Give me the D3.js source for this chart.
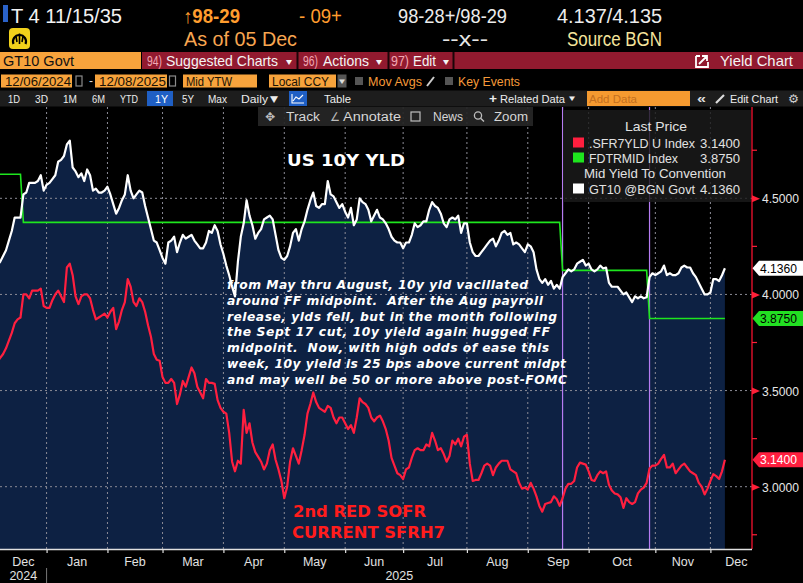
<!DOCTYPE html>
<html><head><meta charset="utf-8">
<script src="https://cdn.jsdelivr.net/npm/d3@7"></script>
<style>
html,body{margin:0;padding:0;background:#000;overflow:hidden;}
svg{display:block;font-family:"Liberation Sans",Arial,sans-serif;}
</style></head><body>
<svg id="c" width="803" height="583"></svg>
<script>
// ---------------- DATA ----------------
const dates = [
"2024-12-06","2024-12-09","2024-12-10","2024-12-11","2024-12-12","2024-12-13","2024-12-16","2024-12-17","2024-12-18","2024-12-19","2024-12-20","2024-12-23","2024-12-24","2024-12-26","2024-12-27","2024-12-30","2024-12-31",
"2025-01-02","2025-01-03","2025-01-06","2025-01-07","2025-01-08","2025-01-09","2025-01-10","2025-01-13","2025-01-14","2025-01-15","2025-01-16","2025-01-17","2025-01-21","2025-01-22","2025-01-23","2025-01-24","2025-01-27","2025-01-28","2025-01-29","2025-01-30","2025-01-31",
"2025-02-03","2025-02-04","2025-02-05","2025-02-06","2025-02-07","2025-02-10","2025-02-11","2025-02-12","2025-02-13","2025-02-14","2025-02-18","2025-02-19","2025-02-20","2025-02-21","2025-02-24","2025-02-25","2025-02-26","2025-02-27","2025-02-28",
"2025-03-03","2025-03-04","2025-03-05","2025-03-06","2025-03-07","2025-03-10","2025-03-11","2025-03-12","2025-03-13","2025-03-14","2025-03-17","2025-03-18","2025-03-19","2025-03-20","2025-03-21","2025-03-24","2025-03-25","2025-03-26","2025-03-27","2025-03-28","2025-03-31",
"2025-04-01","2025-04-02","2025-04-03","2025-04-04","2025-04-07","2025-04-08","2025-04-09","2025-04-10","2025-04-11","2025-04-14","2025-04-15","2025-04-16","2025-04-17","2025-04-21","2025-04-22","2025-04-23","2025-04-24","2025-04-25","2025-04-28","2025-04-29","2025-04-30",
"2025-05-01","2025-05-02","2025-05-05","2025-05-06","2025-05-07","2025-05-08","2025-05-09","2025-05-12","2025-05-13","2025-05-14","2025-05-15","2025-05-16","2025-05-19","2025-05-20","2025-05-21","2025-05-22","2025-05-23","2025-05-27","2025-05-28","2025-05-29","2025-05-30",
"2025-06-02","2025-06-03","2025-06-04","2025-06-05","2025-06-06","2025-06-09","2025-06-10","2025-06-11","2025-06-12","2025-06-13","2025-06-16","2025-06-17","2025-06-18","2025-06-20","2025-06-23","2025-06-24","2025-06-25","2025-06-26","2025-06-27","2025-06-30",
"2025-07-01","2025-07-02","2025-07-03","2025-07-07","2025-07-08","2025-07-09","2025-07-10","2025-07-11","2025-07-14","2025-07-15","2025-07-16","2025-07-17","2025-07-18","2025-07-21","2025-07-22","2025-07-23","2025-07-24","2025-07-25","2025-07-28","2025-07-29","2025-07-30","2025-07-31",
"2025-08-01","2025-08-04","2025-08-05","2025-08-06","2025-08-07","2025-08-08","2025-08-11","2025-08-12","2025-08-13","2025-08-14","2025-08-15","2025-08-18","2025-08-19","2025-08-20","2025-08-21","2025-08-22","2025-08-25","2025-08-26","2025-08-27","2025-08-28","2025-08-29",
"2025-09-02","2025-09-03","2025-09-04","2025-09-05","2025-09-08","2025-09-09","2025-09-10","2025-09-11","2025-09-12","2025-09-15","2025-09-16","2025-09-17","2025-09-18","2025-09-19","2025-09-22","2025-09-23","2025-09-24","2025-09-25","2025-09-26","2025-09-29","2025-09-30",
"2025-10-01","2025-10-02","2025-10-03","2025-10-06","2025-10-07","2025-10-08","2025-10-09","2025-10-10","2025-10-13","2025-10-14","2025-10-15","2025-10-16","2025-10-17","2025-10-20","2025-10-21","2025-10-22","2025-10-23","2025-10-24","2025-10-27","2025-10-28","2025-10-29","2025-10-30","2025-10-31",
"2025-11-03","2025-11-04","2025-11-05","2025-11-06","2025-11-07","2025-11-10","2025-11-11","2025-11-12","2025-11-13","2025-11-14","2025-11-17","2025-11-18","2025-11-19","2025-11-20","2025-11-21","2025-11-24","2025-11-25","2025-11-26","2025-11-28",
"2025-12-01","2025-12-02","2025-12-03","2025-12-04","2025-12-05","2025-12-08"
];

// GT10 @BGN Govt, mid yield (white, filled)
const gt10 = [
4.15,4.17,4.20,4.23,4.28,4.33,4.40,4.40,4.40,4.52,4.53,4.58,4.58,4.58,4.59,4.62,4.54,
4.57,4.58,4.60,4.62,4.69,4.70,4.72,4.78,4.80,4.66,4.64,4.61,4.63,4.59,4.65,4.62,4.54,4.55,4.53,4.53,4.54,
4.56,4.52,4.47,4.42,4.45,4.49,4.52,4.62,4.54,4.50,4.52,4.54,4.53,4.46,4.40,4.34,4.28,4.27,4.23,
4.19,4.16,4.27,4.28,4.30,4.22,4.27,4.31,4.29,4.30,4.31,4.28,4.26,4.24,4.24,4.27,4.33,4.32,4.36,4.33,4.26,
4.21,4.15,4.10,4.04,3.99,4.17,4.30,4.37,4.49,4.41,4.36,4.29,4.32,4.34,4.39,4.40,4.41,4.39,4.31,4.23,4.19,
4.18,4.20,4.25,4.32,4.34,4.28,4.34,4.38,4.44,4.49,4.53,4.46,4.45,4.47,4.47,4.59,4.52,4.51,4.48,4.45,4.47,
4.43,4.40,4.45,4.36,4.39,4.50,4.48,4.47,4.44,4.38,4.41,4.44,4.40,4.39,4.37,4.34,4.30,4.28,4.27,4.27,
4.24,4.27,4.27,4.31,4.37,4.35,4.36,4.38,4.38,4.44,4.48,4.46,4.45,4.42,4.37,4.35,4.39,4.40,4.39,4.41,4.32,4.37,
4.37,4.27,4.22,4.20,4.20,4.22,4.24,4.26,4.28,4.29,4.25,4.28,4.32,4.33,4.31,4.32,4.26,4.27,4.26,4.24,4.22,
4.26,4.25,4.22,4.13,4.08,4.06,4.08,4.05,4.07,4.03,4.05,4.03,4.09,4.11,4.13,4.12,4.13,4.16,4.17,4.18,4.15,
4.16,4.13,4.12,4.13,4.15,4.135,4.14,4.06,4.04,4.04,4.04,4.02,4.00,4.01,3.985,3.96,3.99,3.98,3.99,3.98,3.985,4.09,4.11,
4.10,4.11,4.12,4.15,4.10,4.11,4.10,4.10,4.11,4.14,4.15,4.14,4.14,4.11,4.09,4.06,4.03,4.00,4.00,
4.01,4.08,4.08,4.07,4.10,4.136
];

// .SFR7YLD U Index (red)
const sofr = [
3.65,3.67,3.69,3.72,3.76,3.80,3.85,3.87,3.88,4.00,4.00,3.98,4.02,4.02,4.02,4.03,3.94,
3.93,3.93,3.97,4.00,4.02,3.99,3.96,4.14,4.16,4.10,3.99,3.95,3.99,4.00,4.00,3.98,3.92,3.87,3.88,3.89,3.90,
3.88,3.91,3.93,3.82,3.86,3.92,3.96,4.08,4.04,3.96,3.94,3.98,3.96,3.91,3.84,3.78,3.69,3.66,3.655,
3.57,3.54,3.54,3.56,3.54,3.43,3.48,3.55,3.52,3.57,3.62,3.59,3.52,3.49,3.46,3.56,3.54,3.54,3.535,3.45,3.41,
3.39,3.38,3.28,3.13,3.08,3.135,3.12,3.40,3.28,3.33,3.23,3.18,3.155,3.13,3.09,3.12,3.19,3.22,3.14,3.09,3.03,
2.94,3.00,3.13,3.20,3.16,3.12,3.19,3.27,3.38,3.43,3.49,3.44,3.41,3.40,3.39,3.42,3.41,3.36,3.33,3.36,3.36,
3.33,3.30,3.32,3.28,3.36,3.46,3.44,3.43,3.41,3.36,3.34,3.36,3.37,3.34,3.30,3.24,3.15,3.11,3.07,3.06,
3.04,3.09,3.10,3.15,3.19,3.20,3.19,3.19,3.22,3.21,3.28,3.24,3.19,3.20,3.17,3.13,3.16,3.24,3.22,3.25,3.21,3.26,
3.27,3.12,3.03,3.035,3.035,3.07,3.11,3.12,3.11,3.06,3.10,3.12,3.135,3.135,3.135,3.09,3.08,3.07,3.02,2.99,2.995,
2.985,3.02,2.99,2.95,2.90,2.87,2.91,2.915,2.92,2.95,2.935,2.90,2.94,2.99,3.015,3.015,3.03,3.10,3.125,3.12,3.115,
3.08,3.035,3.03,3.06,3.08,3.07,3.08,3.01,2.98,2.965,2.96,2.945,2.89,2.94,2.92,2.91,2.92,2.965,2.985,2.995,3.02,3.095,3.11,
3.11,3.12,3.145,3.165,3.10,3.10,3.12,3.07,3.09,3.11,3.12,3.10,3.08,3.07,3.06,3.02,3.00,2.96,2.99,
3.03,3.065,3.055,3.04,3.08,3.14
];

// FDTRMID Index (green), fed funds target midpoint
const ffDates = ["2024-12-06","2024-12-18","2024-12-19","2025-09-17","2025-09-18","2025-10-29","2025-10-30","2025-12-08"];
const ffMid   = [4.625,4.625,4.375,4.375,4.125,4.125,3.875,3.875];

// key events (FOMC) lines
const eventDates = ["2025-09-18","2025-10-30"];

const monthLabels = ["Dec","Jan","Feb","Mar","Apr","May","Jun","Jul","Aug","Sep","Oct","Nov","Dec"];
const yearLabels = ["2024","2025"];
const yTicks = [3.0,3.5,4.0,4.5];
const yMinorTicks = [2.75,3.25,3.75,4.25,4.75];

const legendNames = [".SFR7YLD U Index","FDTRMID Index","GT10 @BGN Govt"];
const lastValues = [3.14,3.875,4.136];

const noteLines = [
"from May thru August, 10y yld vacillated",
"around FF midpoint.  After the Aug payroll",
"release, ylds fell, but in the month following",
"the Sept 17 cut, 10y yield again hugged FF",
"midpoint.  Now, with high odds of ease this",
"week, 10y yield is 25 bps above current midpt",
"and may well be 50 or more above post-FOMC"
];

// ---------------- DRAW ----------------
const svg = d3.select("#c");
const W = 803, H = 583;
const plotT = 107, plotB = 549, plotR = 752;
const RED = "#ff1f3f", GREEN = "#1ee61e", NAVY = "#0d2143", ORANGE = "#f7a33c";
const DJ = '"DejaVu Sans", Verdana, sans-serif';

svg.append("rect").attr("width",W).attr("height",H).attr("fill","#000");

function T(g, s, x0, x1, yb, size, color, o={}) {
  const t = g.append("text").attr("x",x0).attr("y",yb).attr("font-size",size).attr("fill",color).text(s);
  if (x1 != null) t.attr("textLength",x1-x0).attr("lengthAdjust",o.adjust||"spacingAndGlyphs");
  if (o.weight) t.style("font-weight",o.weight);
  if (o.family) t.style("font-family",o.family);
  if (o.style) t.style("font-style",o.style);
  if (o.anchor) t.attr("text-anchor",o.anchor);
  return t;
}

// ---- header ----
const hd = svg.append("g");
hd.append("rect").attr("x",3).attr("y",5).attr("width",5).attr("height",17).attr("fill","#2a62c9");
T(hd,"T 4 11/15/35",11,122,23,20,"#f2f2f2");
T(hd,"↑98-29",183,240,23,20,"#ff9d2e",{weight:"bold"});
T(hd,"- 09+",299,342,23,20,"#ff9d2e");
T(hd,"98-28+/98-29",398,507,23,20,"#ececec");
T(hd,"4.137/4.135",557,662,23,20,"#ececec");

// yellow icon
hd.append("rect").attr("x",9).attr("y",28).attr("width",21).attr("height",21).attr("rx",4).attr("fill","#f2d21b");
hd.append("path").attr("d","M13.5,44 A6.5,6.5 0 1 1 25.5,44").attr("fill","none").attr("stroke","#000").attr("stroke-width",2.2);
hd.append("path").attr("d","M19.5,33.5 L19.5,44 M16,36.5 L17,42 M23,36.5 L22,42").attr("stroke","#000").attr("stroke-width",1.6);

T(hd,"As of 05 Dec",184,297,46,20,"#f8a650");
T(hd,"--x--",442,488,46,20,"#e6e6e6");
T(hd,"Source BGN",567,662,46,20,"#f5e49c");

// row 3
hd.append("rect").attr("x",0).attr("y",52).attr("width",141).attr("height",17).attr("fill",ORANGE);
T(hd,"GT10 Govt",3,74,66,15,"#111");
hd.append("rect").attr("x",142).attr("y",52).attr("width",W-142).attr("height",17).attr("fill","#921a2f");
[297.5,388.5,453.5].forEach(xx=>hd.append("rect").attr("x",xx-1).attr("y",52).attr("width",2).attr("height",17).attr("fill","#1a0508"));
T(hd,"94)",147,162,66,14,"#f1a7b3");
T(hd,"Suggested Charts",166,278,66,15,"#f4f4f4");
T(hd,"▾",286,292,65,10,"#f4f4f4",{family:DJ});
T(hd,"96)",303,318,66,14,"#f1a7b3");
T(hd,"Actions",323,369,66,15,"#f4f4f4");
T(hd,"▾",376,382,65,10,"#f4f4f4",{family:DJ});
T(hd,"97)",391,409,66,14,"#f1a7b3");
T(hd,"Edit",413,436,66,15,"#f4f4f4");
T(hd,"▾",443,449,65,10,"#f4f4f4",{family:DJ});
hd.append("path").attr("d","M696,56 L696,67 L708,67 L708,62 M699,64 L707,56 M702,56 L707,56 L707,61 M696,56 L700,56")
  .attr("fill","none").attr("stroke","#fff").attr("stroke-width",1.8);
T(hd,"Yield Chart",720,793,66,15,"#f4f4f4");

// row 4
function obox(x0,x1,label,tx0,tx1){
  hd.append("rect").attr("x",x0).attr("y",74.5).attr("width",x1-x0).attr("height",13).attr("fill",ORANGE);
  T(hd,label,tx0,tx1,85.5,12.5,"#1a1205");
}
obox(1,72,"12/06/2024",5,71);
hd.append("rect").attr("x",76).attr("y",76).attr("width",6).attr("height",10).attr("fill","none").attr("stroke","#8a8a8a").attr("stroke-width",1.2);
T(hd,"-",89,93,85,12,"#ddd");
obox(95,167,"12/08/2025",99,166);
hd.append("rect").attr("x",169.5).attr("y",76).attr("width",6).attr("height",10).attr("fill","none").attr("stroke","#8a8a8a").attr("stroke-width",1.2);
obox(183,257,"Mid YTW",186,232);
obox(269,336,"Local CCY",272,329);
hd.append("rect").attr("x",337.5).attr("y",74.5).attr("width",9).attr("height",13).attr("fill","#555");
T(hd,"▾",339,345,84,9,"#ddd",{family:DJ});
hd.append("rect").attr("x",355).attr("y",77).attr("width",8).attr("height",8).attr("fill","#555");
T(hd,"Mov Avgs",368,422,86,13,"#f59a3a");
hd.append("path").attr("d","M427,86 L434,77").attr("stroke","#ccc").attr("stroke-width",2);
hd.append("rect").attr("x",445).attr("y",77).attr("width",8).attr("height",8).attr("fill","#555");
T(hd,"Key Events",458,520,86,13,"#f59a3a");

// row 5 toolbar
hd.append("rect").attr("x",0).attr("y",90.5).attr("width",W).attr("height",16).attr("fill","#1d1d1d");
const btns = [["1D",8,20],["3D",35,48],["1M",63,77],["6M",92,105],["YTD",120,138],["5Y",182,194],["Max",208,227],["Daily",241,268],["Table",324,351]];
hd.append("rect").attr("x",147).attr("y",91).attr("width",26).attr("height",15).attr("fill","#1f5fc4");
T(hd,"1Y",155,168,102.5,11.5,"#fff");
btns.forEach(b=>T(hd,b[0],b[1],b[2],102.5,11.5,"#ececec"));
T(hd,"▼",270,278,102,9,"#ececec",{family:DJ});
hd.append("rect").attr("x",289).attr("y",91).attr("width",18).attr("height",15).attr("fill","#1f5fc4");
hd.append("path").attr("d","M292,94 L292,103 L304,103 M293,101 L296,97 L299,99 L303,95").attr("fill","none").attr("stroke","#fff").attr("stroke-width",1.1);
T(hd,"+",489,497,102.5,12,"#ececec",{weight:"bold"});
T(hd,"Related Data",500,565,102.5,11.5,"#ececec");
T(hd,"▾",569,575,101,9,"#ececec",{family:DJ});
hd.append("rect").attr("x",587).attr("y",91).attr("width",103).attr("height",15).attr("fill","#f59a30");
T(hd,"Add Data",589,637,102.5,11.5,"#c4701f");
T(hd,"«",697,706,102.5,13,"#dcdcdc",{weight:"bold"});
hd.append("path").attr("d","M716,103 L724,95").attr("stroke","#ddd").attr("stroke-width",2.2);
T(hd,"Edit Chart",730,778,102.5,11.5,"#ececec");
T(hd,"⚙",788,799,103,12,"#cfcfcf",{family:DJ});

// ---- plot ----
const x = d3.scalePoint().domain(dates).range([-2.7, 724.9]);
const y = d3.scaleLinear().domain([3.0, 4.5]).range([486.7, 198.3]);

const defs = svg.append("defs");
defs.append("clipPath").attr("id","pc").append("rect").attr("x",0).attr("y",plotT).attr("width",plotR).attr("height",plotB-plotT);
const pg = svg.append("g").attr("clip-path","url(#pc)");

const gtData = dates.map((d,i)=>({d, v: gt10[i]}));
const sfData = dates.map((d,i)=>({d, v: sofr[i]}));
const ffData = ffDates.map((d,i)=>({d, v: ffMid[i]}));

pg.append("path").datum(gtData)
  .attr("d", d3.area().x(p=>x(p.d)).y0(plotB).y1(p=>y(p.v)))
  .attr("fill", NAVY);

// month starts
const monthStarts = [];
dates.forEach((d,i)=>{ if(i===0 || d.slice(0,7)!==dates[i-1].slice(0,7)) monthStarts.push(d); });
const tickDates = monthStarts.slice(1);

// grid
pg.selectAll(".hg").data(yTicks).join("line")
  .attr("x1",0).attr("x2",plotR).attr("y1",v=>y(v)).attr("y2",v=>y(v))
  .attr("stroke","#8c8c96").attr("stroke-width",1).attr("stroke-dasharray","2,3");
pg.selectAll(".vg").data(tickDates).join("line")
  .attr("x1",d=>x(d)).attr("x2",d=>x(d)).attr("y1",plotT).attr("y2",plotB)
  .attr("stroke","#8c8c96").attr("stroke-width",1).attr("stroke-dasharray","2,3");

// key event lines
pg.selectAll(".ev").data(eventDates).join("line")
  .attr("x1",d=>x(d)).attr("x2",d=>x(d)).attr("y1",plotT).attr("y2",plotB)
  .attr("stroke","#b67cf2").attr("stroke-width",1.2);

const line = d3.line().x(p=>x(p.d)).y(p=>y(p.v));
pg.append("path").datum(ffData).attr("d",line).attr("fill","none").attr("stroke",GREEN).attr("stroke-width",1.6);
pg.append("path").datum(sfData).attr("d",line).attr("fill","none").attr("stroke",RED).attr("stroke-width",2.2).attr("stroke-linejoin","round");
pg.append("path").datum(gtData).attr("d",line).attr("fill","none").attr("stroke","#fff").attr("stroke-width",2.2).attr("stroke-linejoin","round");

// track/annotate toolbar
const tb = svg.append("g");
tb.append("rect").attr("x",258).attr("y",107).attr("width",275).attr("height",19).attr("fill","#262626").attr("opacity",0.92);
T(tb,"✥",265,275,121,12,"#bdbdbd",{family:DJ});
T(tb,"Track",286,320,121,12.5,"#d6d6d6");
T(tb,"∠",330,340,121,12,"#bdbdbd",{family:DJ});
T(tb,"Annotate",343,401,121,12.5,"#d6d6d6");
tb.append("rect").attr("x",411).attr("y",112).attr("width",9).attr("height",9).attr("fill","none").attr("stroke","#bdbdbd").attr("stroke-width",1.2);
T(tb,"News",433,463,121,12.5,"#d6d6d6");
tb.append("circle").attr("cx",478).attr("cy",115.5).attr("r",3.6).attr("fill","none").attr("stroke","#bdbdbd").attr("stroke-width",1.3);
tb.append("line").attr("x1",480.6).attr("y1",118.2).attr("x2",484).attr("y2",121.5).attr("stroke","#bdbdbd").attr("stroke-width",1.5);
T(tb,"Zoom",494,528,121,12.5,"#d6d6d6");

// legend
const lg = svg.append("g");
lg.append("rect").attr("x",563).attr("y",110).attr("width",188).attr("height",92).attr("fill","#1b1b1b").attr("opacity",0.82);
T(lg,"Last Price",625,687,131,13.5,"#e2e2e2");
const legColors = [RED, GREEN, "#ffffff"];
const legY = [148,163,194];
const legNameEnd = [695,678,695];
legendNames.forEach((n,i)=>{
  lg.append("rect").attr("x",573).attr("y",legY[i]-10.5).attr("width",11).attr("height",10).attr("fill",legColors[i]);
  T(lg,n,589,legNameEnd[i],legY[i],13.5,"#e2e2e2");
  T(lg,d3.format(".4f")(lastValues[i]),700,740,legY[i],13.5,"#e2e2e2");
});
T(lg,"Mid Yield To Convention",584,726,178,13.5,"#e2e2e2");

// titles / notes
const nt = svg.append("g");
T(nt,"US 10Y YLD",287,405,166,16,"#fff",{weight:"bold",family:DJ});
T(nt,"2nd RED SOFR",293,426,517,16.5,"#ff1c1c",{weight:"bold",family:DJ});
T(nt,"CURRENT SFRH7",292,445,538,16.5,"#ff1c1c",{weight:"bold",family:DJ});
const noteEnds = [528,543,557,550,549,566,567];
noteLines.forEach((s,i)=>{
  T(nt,s,227,noteEnds[i],289+i*15.75,12.3,"#fff",{weight:"bold",family:DJ,style:"italic",adjust:"spacing"})
    .style("white-space","pre");
});

// ---- right axis ----
const ax = svg.append("g");
ax.append("line").attr("x1",plotR).attr("x2",plotR).attr("y1",plotT).attr("y2",plotB).attr("stroke","#e3112c").attr("stroke-width",1.4);
const yAxis = d3.axisRight(y).tickValues(yTicks).tickSize(0).tickPadding(10).tickFormat(d3.format(".4f"));
const yg = ax.append("g").attr("transform",`translate(${plotR},0)`).call(yAxis);
yg.select(".domain").remove();
yg.attr("font-family",null).attr("font-size",null);
yg.selectAll("text").attr("font-size",12.5).attr("fill","#e6e6e6").attr("dy","0.36em")
  .attr("textLength",37).attr("lengthAdjust","spacingAndGlyphs");
yg.selectAll(".tick").append("path").attr("d","M0,-3.5 L8,0 L0,3.5 Z").attr("fill","#ff2038");
ax.selectAll(".mt").data(yMinorTicks).join("line")
  .attr("x1",plotR).attr("x2",plotR+5).attr("y1",v=>y(v)).attr("y2",v=>y(v)).attr("stroke","#ff2038").attr("stroke-width",1.2);

// last value tags
const tagFill = [RED, "#22e022", "#ffffff"];
const tagText = ["#ffffff", "#000000", "#000000"];
lastValues.forEach((v,i)=>{
  const yc = y(v);
  ax.append("path").attr("d",`M${plotR+0.5},${yc} L${plotR+7},${yc-7.5} L${W},${yc-7.5} L${W},${yc+7.5} L${plotR+7},${yc+7.5} Z`).attr("fill",tagFill[i]);
  ax.append("text").attr("x",760).attr("y",yc+4.6).attr("font-size",12.5).attr("fill",tagText[i])
    .attr("textLength",37).attr("lengthAdjust","spacingAndGlyphs").text(d3.format(".4f")(v));
});

// ---- bottom axis ----
const xAxis = d3.axisBottom(x).tickValues(tickDates).tickSize(4).tickFormat("");
const xg = svg.append("g").attr("transform",`translate(0,${plotB})`).call(xAxis);
xg.select(".domain").attr("d",`M0,0.5H${plotR}`).attr("stroke","#e0e0e0").attr("stroke-width",1.5);
xg.selectAll(".tick line").attr("stroke","#e0e0e0").attr("stroke-width",1.2);

const bounds = [0, ...tickDates.map(d=>x(d))];
const labXs = bounds.map((b,i)=> i<bounds.length-1 ? (b+bounds[i+1])/2 : b+26);
svg.selectAll(".ml").data(monthLabels).join("text")
  .attr("x",(d,i)=>labXs[i]).attr("y",566).attr("text-anchor","middle").attr("font-size",12.5).attr("fill","#e2e2e2").text(d=>d);
const jan = x(tickDates[0]);
svg.append("line").attr("x1",jan).attr("x2",jan).attr("y1",568).attr("y2",583).attr("stroke","#777").attr("stroke-width",1);
svg.selectAll(".yl").data(yearLabels).join("text")
  .attr("x",(d,i)=> i===0 ? jan/2 : (jan+plotR)/2).attr("y",580).attr("text-anchor","middle")
  .attr("font-size",12.5).attr("fill","#e2e2e2").text(d=>d);
</script>
</body></html>
